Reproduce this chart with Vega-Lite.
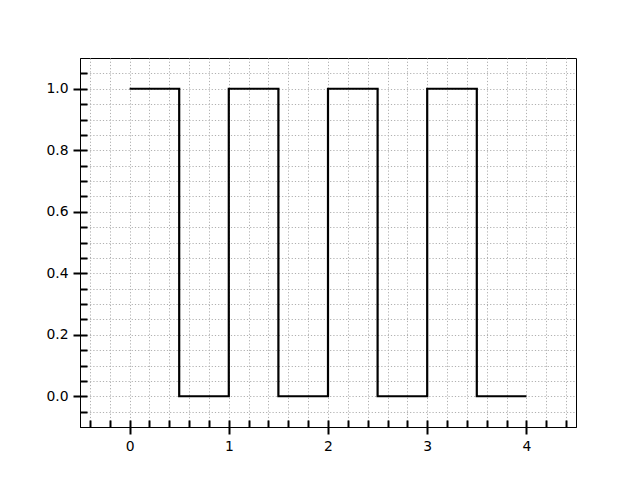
{
  "$schema": "https://vega.github.io/schema/vega-lite/v6.json",
  "autosize": {"type": "none"},
  "padding": {"left": 80, "top": 58, "right": 64, "bottom": 53},
  "width": 496,
  "height": 369,
  "background": "white",
  "config": {
    "view": {"stroke": "black", "strokeWidth": 1},
    "axis": {
      "labelFont": "DejaVu Sans",
      "labelFontSize": 13.9,
      "labelColor": "black",
      "domainColor": "black",
      "domainWidth": 1,
      "tickColor": "black",
      "tickWidth": 2,
      "title": null
    }
  },
  "data": {
    "values": [
      {"t": 0.0, "v": 1},
      {"t": 0.5, "v": 0},
      {"t": 1.0, "v": 1},
      {"t": 1.5, "v": 0},
      {"t": 2.0, "v": 1},
      {"t": 2.5, "v": 0},
      {"t": 3.0, "v": 1},
      {"t": 3.5, "v": 0},
      {"t": 4.0, "v": 0}
    ]
  },
  "resolve": {"axis": {"x": "independent", "y": "independent"}},
  "layer": [
    {
      "mark": {"type": "line", "opacity": 0, "interpolate": "step-after"},
      "encoding": {
        "x": {
          "field": "t", "type": "quantitative",
          "scale": {"domain": [-0.5, 4.5], "nice": false, "zero": false},
          "axis": {
            "orient": "bottom",
            "values": [-0.4, -0.2, 0, 0.2, 0.4, 0.6, 0.8, 1, 1.2, 1.4, 1.6, 1.8, 2, 2.2, 2.4, 2.6, 2.8, 3, 3.2, 3.4, 3.6, 3.8, 4, 4.2, 4.4],
            "labels": false,
            "domain": false,
            "tickSize": -7,
            "grid": true,
            "gridColor": "#b0b0b0",
            "gridDash": [1.2, 2],
            "gridWidth": 1
          }
        },
        "y": {
          "field": "v", "type": "quantitative",
          "scale": {"domain": [-0.1, 1.1], "nice": false, "zero": false},
          "axis": {
            "orient": "left",
            "values": [-0.05, 0, 0.05, 0.1, 0.15, 0.2, 0.25, 0.3, 0.35, 0.4, 0.45, 0.5, 0.55, 0.6, 0.65, 0.7, 0.75, 0.8, 0.85, 0.9, 0.95, 1, 1.05],
            "labels": false,
            "domain": false,
            "tickSize": -7,
            "grid": true,
            "gridColor": "#b0b0b0",
            "gridDash": [1.2, 2],
            "gridWidth": 1
          }
        }
      }
    },
    {
      "mark": {"type": "line", "color": "black", "strokeWidth": 2.2, "interpolate": "step-after"},
      "encoding": {
        "x": {
          "field": "t", "type": "quantitative",
          "scale": {"domain": [-0.5, 4.5], "nice": false, "zero": false},
          "axis": {
            "orient": "bottom",
            "values": [0, 1, 2, 3, 4],
            "format": "d",
            "grid": false,
            "tickSize": 7,
            "labelPadding": 5
          }
        },
        "y": {
          "field": "v", "type": "quantitative",
          "scale": {"domain": [-0.1, 1.1], "nice": false, "zero": false},
          "axis": {
            "orient": "left",
            "values": [0, 0.2, 0.4, 0.6, 0.8, 1.0],
            "format": ".1f",
            "grid": false,
            "tickSize": 7,
            "labelPadding": 5
          }
        }
      }
    }
  ]
}
